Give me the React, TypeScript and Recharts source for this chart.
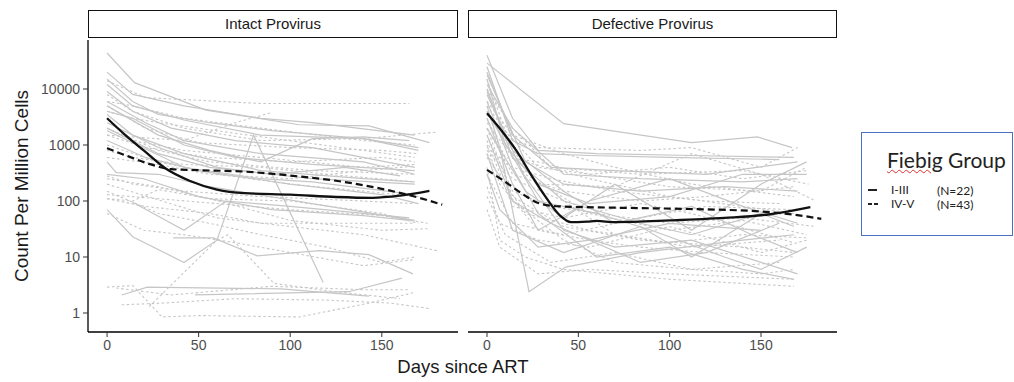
import { Line, LineChart, XAxis, YAxis } from 'recharts';

type Pt = [number, number];

// days since ART, copies per million cells
const intactEarly: Pt[][] = [
  [[0, 44000], [15, 13000], [54, 4200], [105, 2300], [143, 2200], [176, 1100]],
  [[0, 20000], [14, 8000], [42, 5000], [84, 3000], [112, 2500], [168, 1500]],
  [[0, 15000], [14, 6000], [28, 3500], [56, 2500], [90, 1800], [140, 1300], [170, 800]],
  [[0, 9000], [14, 4000], [35, 2000], [70, 1200], [112, 900], [168, 400]],
  [[0, 6000], [21, 2500], [42, 1200], [84, 700], [140, 500], [168, 300]],
  [[0, 3500], [14, 1500], [42, 700], [84, 350], [140, 250], [168, 220]],
  [[0, 2000], [28, 700], [56, 400], [112, 250], [168, 200]],
  [[0, 500], [5, 320], [28, 300], [56, 180], [112, 90], [168, 45]],
  [[14, 95], [42, 30], [65, 100], [100, 80], [140, 60], [165, 50]],
  [[0, 70], [14, 23], [42, 8], [60, 20], [80, 1500], [118, 3.5]],
  [[36, 22], [58, 22], [82, 10.5], [116, 13], [143, 11], [167, 5]],
  [[8, 2.1], [22, 2.9], [95, 2.7], [143, 2.0]],
  [[48, 2.1], [132, 2.4], [161, 4.2]],
  [[0, 12000], [14, 5000], [42, 2800], [84, 1500], [140, 1300], [170, 900]],
  [[0, 1200], [21, 600], [50, 350], [100, 200], [150, 130], [170, 90]],
  [[0, 300], [20, 250], [50, 120], [90, 70], [140, 55], [165, 45]],
  [[0, 5000], [28, 1500], [56, 800], [84, 500], [112, 1300], [140, 1400], [165, 1200]],
  [[0, 4000], [14, 3000], [42, 1000], [70, 600], [112, 450], [168, 350]],
  [[0, 2500], [28, 900], [60, 400], [90, 300], [130, 400], [160, 280]],
  [[0, 1800], [14, 1100], [42, 400], [84, 250], [112, 220], [168, 130]],
];

const intactLate: Pt[][] = [
  [[0, 14000], [21, 7000], [42, 6500], [84, 5500], [120, 5500], [165, 5500]],
  [[0, 8000], [14, 4000], [42, 2000], [84, 1200], [140, 1300], [180, 1700]],
  [[0, 5000], [21, 2000], [50, 1100], [100, 900], [150, 800], [170, 700]],
  [[0, 3000], [14, 1200], [42, 800], [84, 600], [140, 400], [168, 450]],
  [[0, 2000], [28, 800], [56, 500], [112, 350], [168, 300]],
  [[0, 1500], [21, 900], [56, 600], [100, 500], [150, 600], [168, 500]],
  [[0, 1000], [28, 500], [60, 300], [100, 200], [140, 150], [170, 120]],
  [[0, 280], [14, 200], [42, 150], [84, 120], [140, 100], [168, 90]],
  [[0, 130], [28, 110], [60, 90], [100, 70], [150, 55], [175, 40]],
  [[0, 110], [21, 80], [56, 60], [84, 40], [120, 40], [168, 40]],
  [[0, 200], [30, 100], [60, 50], [100, 35], [140, 25], [180, 13]],
  [[0, 150], [28, 60], [56, 40], [84, 25], [120, 15], [150, 8], [168, 10]],
  [[0, 2.9], [14, 3.1], [30, 0.85], [50, 0.9], [105, 0.85], [143, 1.5], [167, 2.3]],
  [[8, 1.4], [30, 1.5], [70, 1.8], [120, 1.7], [155, 1.5], [176, 1.2]],
  [[23, 1.3], [60, 20], [66, 25], [91, 3.4], [120, 2.5], [160, 1.8]],
  [[0, 60], [20, 30], [42, 25], [70, 18], [100, 12], [140, 7], [168, 9]],
  [[0, 800], [14, 600], [42, 450], [84, 400], [120, 300], [168, 220]],
  [[0, 4000], [14, 3000], [28, 2500], [84, 1400], [140, 800], [168, 600]],
  [[0, 250], [28, 180], [56, 110], [100, 100], [150, 60], [170, 40]],
  [[0, 1500], [42, 1200], [70, 2500], [90, 3800]],
  [[0, 600], [28, 450], [56, 300], [100, 250], [140, 350], [168, 420]],
  [[0, 6000], [14, 5000], [42, 3000], [84, 2000], [140, 1200], [168, 1000]],
  [[0, 110], [14, 100], [28, 160], [56, 110], [100, 45], [150, 30], [175, 32]],
  [[5, 2.8], [35, 2.1], [90, 3.0], [140, 2.6], [165, 2.6]],
];

const defectiveEarly: Pt[][] = [
  [[0, 29000], [42, 2400], [112, 1100], [148, 1400], [167, 900]],
  [[0, 40000], [14, 3000], [28, 800], [60, 700], [112, 650], [168, 600]],
  [[0, 20000], [14, 1500], [35, 400], [70, 350], [120, 300], [170, 500]],
  [[0, 15000], [10, 1000], [28, 200], [56, 90], [100, 120], [140, 300], [175, 300]],
  [[0, 10000], [14, 600], [42, 100], [84, 40], [112, 25], [150, 60], [168, 35]],
  [[0, 8000], [20, 300], [42, 30], [70, 15], [112, 20], [150, 8], [170, 5]],
  [[0, 6000], [14, 400], [28, 60], [60, 10], [100, 15], [140, 6], [168, 4]],
  [[0, 5000], [7, 900], [23, 2.4], [43, 6.6], [84, 12], [140, 20], [168, 25]],
  [[0, 3000], [14, 200], [28, 30], [56, 100], [100, 250], [140, 80], [170, 40]],
  [[0, 2000], [21, 150], [42, 50], [70, 200], [112, 30], [150, 200], [175, 500]],
  [[0, 1500], [14, 100], [35, 40], [84, 8], [120, 12], [160, 40]],
  [[0, 25000], [14, 1200], [28, 700], [56, 650], [100, 600], [160, 550]],
  [[0, 12000], [14, 2000], [42, 300], [84, 250], [140, 220], [170, 250]],
  [[0, 700], [14, 30], [42, 12], [84, 35], [112, 10], [150, 60]],
  [[0, 4000], [28, 100], [60, 60], [90, 30], [130, 10], [150, 6], [175, 15]],
  [[0, 300], [7, 70], [28, 15], [56, 20], [100, 40], [150, 30]],
  [[0, 18000], [21, 500], [42, 200], [84, 150], [130, 180], [170, 150]],
  [[0, 9000], [14, 800], [42, 150], [70, 40], [112, 80], [145, 25], [170, 12]],
];

const defectiveLate: Pt[][] = [
  [[0, 5000], [14, 1200], [28, 900], [84, 800], [112, 900], [150, 400], [170, 900]],
  [[0, 3000], [10, 600], [28, 500], [56, 300], [100, 400], [140, 250], [175, 350]],
  [[0, 2000], [14, 300], [42, 150], [84, 100], [120, 120], [168, 180]],
  [[0, 1500], [14, 150], [35, 80], [60, 60], [100, 40], [140, 50], [180, 35]],
  [[0, 1000], [7, 200], [28, 30], [56, 20], [84, 15], [120, 12], [168, 10]],
  [[0, 700], [14, 100], [42, 20], [70, 8], [112, 6], [150, 5], [168, 6]],
  [[0, 400], [7, 20], [21, 10], [42, 6], [100, 4], [168, 3]],
  [[0, 300], [14, 40], [42, 25], [84, 50], [120, 80], [168, 70]],
  [[0, 6000], [14, 1500], [42, 700], [70, 400], [112, 200], [168, 120]],
  [[0, 10000], [14, 2000], [35, 400], [84, 300], [140, 350], [176, 200]],
  [[0, 2500], [21, 300], [56, 60], [100, 30], [140, 45], [175, 25]],
  [[0, 1200], [14, 80], [42, 50], [84, 90], [112, 60], [168, 18]],
  [[0, 800], [14, 250], [42, 100], [70, 25], [112, 15], [160, 20]],
  [[0, 180], [7, 40], [28, 20], [56, 15], [100, 35], [150, 12], [175, 20]],
  [[0, 120], [10, 25], [35, 8], [70, 12], [112, 6], [160, 8]],
  [[0, 4000], [21, 500], [56, 250], [100, 120], [140, 80], [168, 60]],
  [[0, 3500], [28, 200], [70, 180], [112, 700], [150, 300], [180, 100]],
  [[0, 2000], [14, 120], [42, 35], [84, 20], [140, 15], [168, 12]],
  [[0, 900], [14, 400], [35, 250], [70, 150], [120, 100], [160, 90]],
  [[0, 600], [21, 60], [56, 30], [100, 18], [140, 25], [175, 22]],
  [[0, 70], [7, 15], [28, 5], [56, 6], [100, 5], [168, 4]],
  [[0, 15000], [10, 1800], [28, 400], [56, 300], [100, 180], [150, 150], [175, 400]],
];

// loess fits per Fiebig group
const intactSmoothEarly: Pt[] = [
  [0, 3000], [10, 1500], [20, 800], [32, 380], [45, 230], [60, 160], [75, 138],
  [100, 130], [125, 118], [145, 114], [160, 125], [176, 152],
];
const intactSmoothLate: Pt[] = [
  [0, 880], [12, 620], [24, 450], [35, 370], [50, 355], [75, 335], [100, 285],
  [125, 230], [150, 165], [170, 115], [183, 86],
];
const defectiveSmoothEarly: Pt[] = [
  [0, 3700], [8, 1800], [16, 800], [24, 300], [32, 120], [40, 55], [46, 42],
  [55, 43], [60, 44], [70, 42], [100, 45], [130, 50], [155, 58], [177, 78],
];
const defectiveSmoothLate: Pt[] = [
  [0, 360], [10, 220], [20, 130], [28, 92], [40, 80], [70, 76], [110, 72],
  [150, 65], [168, 57], [183, 48],
];

const panelTitles = ['Intact Provirus', 'Defective Provirus'];
const groupLabels = ['I-III', 'IV-V'];
const groupCounts = ['(N=22)', '(N=43)'];
const xTicks = [0, 50, 100, 150];
const yTicks = [1, 10, 100, 1000, 10000];

const FONT = '"Liberation Sans", Arial, sans-serif';
const LEGEND_FONT = 'Lato, "Open Sans", sans-serif';
const GREY = '#c6c6c6';

const toRows = (pts: Pt[]) => pts.map(([d, v]) => ({ d, v }));

function Panel({
  left,
  width,
  showY,
  title,
  early,
  late,
  smoothEarly,
  smoothLate,
}: {
  left: number;
  width: number;
  showY: boolean;
  title: string;
  early: Pt[][];
  late: Pt[][];
  smoothEarly: Pt[];
  smoothLate: Pt[];
}) {
  const marginLeft = showY ? 28 : 8;
  const yWidth = showY ? 60 : 0;
  const plotLeft = left + marginLeft + yWidth;
  const plotWidth = width - marginLeft - yWidth - 3;
  return (
    <>
      <div
        style={{
          position: 'absolute',
          left: plotLeft,
          top: 10,
          width: plotWidth,
          height: 28,
          boxSizing: 'border-box',
          border: '1.4px solid #111',
          fontFamily: FONT,
          fontSize: 15,
          color: '#1a1a1a',
          textAlign: 'center',
          lineHeight: '26px',
        }}
      >
        {title}
      </div>
      <div style={{ position: 'absolute', left, top: 0 }}>
        <LineChart
          width={width}
          height={382}
          margin={{ top: 40, right: 3, bottom: 20, left: marginLeft }}
        >
          <XAxis
            dataKey="d"
            type="number"
            domain={[-10.4, 191.6]}
            ticks={xTicks}
            allowDataOverflow
            height={30}
            tickSize={5}
            tickMargin={3}
            axisLine={{ stroke: '#000', strokeWidth: 1.3 }}
            tickLine={{ stroke: '#333' }}
            tick={{ fill: '#4d4d4d', fontSize: 14, fontFamily: FONT }}
          />
          <YAxis
            type="number"
            scale="log"
            domain={[0.458, 75000]}
            ticks={yTicks}
            allowDataOverflow
            hide={!showY}
            width={yWidth}
            tickSize={5}
            tickMargin={3}
            axisLine={{ stroke: '#000', strokeWidth: 1.3 }}
            tickLine={{ stroke: '#333' }}
            tick={{ fill: '#4d4d4d', fontSize: 14, fontFamily: FONT }}
          />
          {late.map((p, i) => (
            <Line
              key={`late-${i}`}
              data={toRows(p)}
              dataKey="v"
              type="linear"
              stroke={GREY}
              strokeWidth={1.1}
              strokeDasharray="2.5 2.5"
              dot={false}
              activeDot={false}
              isAnimationActive={false}
            />
          ))}
          {early.map((p, i) => (
            <Line
              key={`early-${i}`}
              data={toRows(p)}
              dataKey="v"
              type="linear"
              stroke={GREY}
              strokeWidth={1.2}
              dot={false}
              activeDot={false}
              isAnimationActive={false}
            />
          ))}
          <Line
            data={toRows(smoothLate)}
            dataKey="v"
            type="monotone"
            stroke="#111"
            strokeWidth={2.2}
            strokeDasharray="7 4"
            dot={false}
            activeDot={false}
            isAnimationActive={false}
          />
          <Line
            data={toRows(smoothEarly)}
            dataKey="v"
            type="monotone"
            stroke="#111"
            strokeWidth={2.3}
            dot={false}
            activeDot={false}
            isAnimationActive={false}
          />
        </LineChart>
      </div>
    </>
  );
}

const legendText = {
  position: 'absolute' as const,
  fontSize: 12,
  lineHeight: '12px',
  height: 12,
  whiteSpace: 'nowrap' as const,
};

export default function App() {
  return (
    <div
      style={{
        position: 'fixed',
        left: 0,
        top: 0,
        width: 1014,
        height: 382,
        background: '#fff',
        overflow: 'hidden',
      }}
    >
      <Panel
        left={0}
        width={461}
        showY
        title={panelTitles[0]}
        early={intactEarly}
        late={intactLate}
        smoothEarly={intactSmoothEarly}
        smoothLate={intactSmoothLate}
      />
      <Panel
        left={460}
        width={380}
        showY={false}
        title={panelTitles[1]}
        early={defectiveEarly}
        late={defectiveLate}
        smoothEarly={defectiveSmoothEarly}
        smoothLate={defectiveSmoothLate}
      />
      <div
        style={{
          position: 'absolute',
          left: 22,
          top: 186,
          transform: 'translate(-50%, -50%) rotate(-90deg)',
          whiteSpace: 'nowrap',
          fontFamily: FONT,
          fontSize: 19,
          color: '#1a1a1a',
        }}
      >
        Count Per Million Cells
      </div>
      <div
        style={{
          position: 'absolute',
          left: 463,
          top: 367,
          transform: 'translate(-50%, -50%)',
          whiteSpace: 'nowrap',
          fontFamily: FONT,
          fontSize: 18.5,
          color: '#1a1a1a',
        }}
      >
        Days since ART
      </div>
      <div
        style={{
          position: 'absolute',
          left: 861,
          top: 132,
          width: 152,
          height: 104,
          boxSizing: 'border-box',
          border: '1.5px solid #4a72c4',
          fontFamily: LEGEND_FONT,
          color: '#222',
        }}
      >
        <div style={{ position: 'absolute', left: 25, top: 16, fontSize: 21, lineHeight: '22px', whiteSpace: 'nowrap' }}>
          <span style={{ textDecoration: 'underline wavy #e03030', textDecorationThickness: 1 }}>Fiebig</span> Group
        </div>
        {/* solid and dashed key marks */}
        <div style={{ position: 'absolute', left: 6, top: 56, width: 9, height: 2, background: '#222' }} />
        <div style={{ position: 'absolute', left: 6, top: 70, width: 3.5, height: 2, background: '#222' }} />
        <div style={{ position: 'absolute', left: 12, top: 70, width: 3.5, height: 2, background: '#222' }} />
        <div style={{ ...legendText, left: 29, top: 51 }}>{groupLabels[0]}</div>
        <div style={{ ...legendText, left: 75, top: 51.5 }}>{groupCounts[0]}</div>
        <div style={{ ...legendText, left: 29, top: 65 }}>{groupLabels[1]}</div>
        <div style={{ ...legendText, left: 75, top: 66 }}>{groupCounts[1]}</div>
      </div>
    </div>
  );
}
